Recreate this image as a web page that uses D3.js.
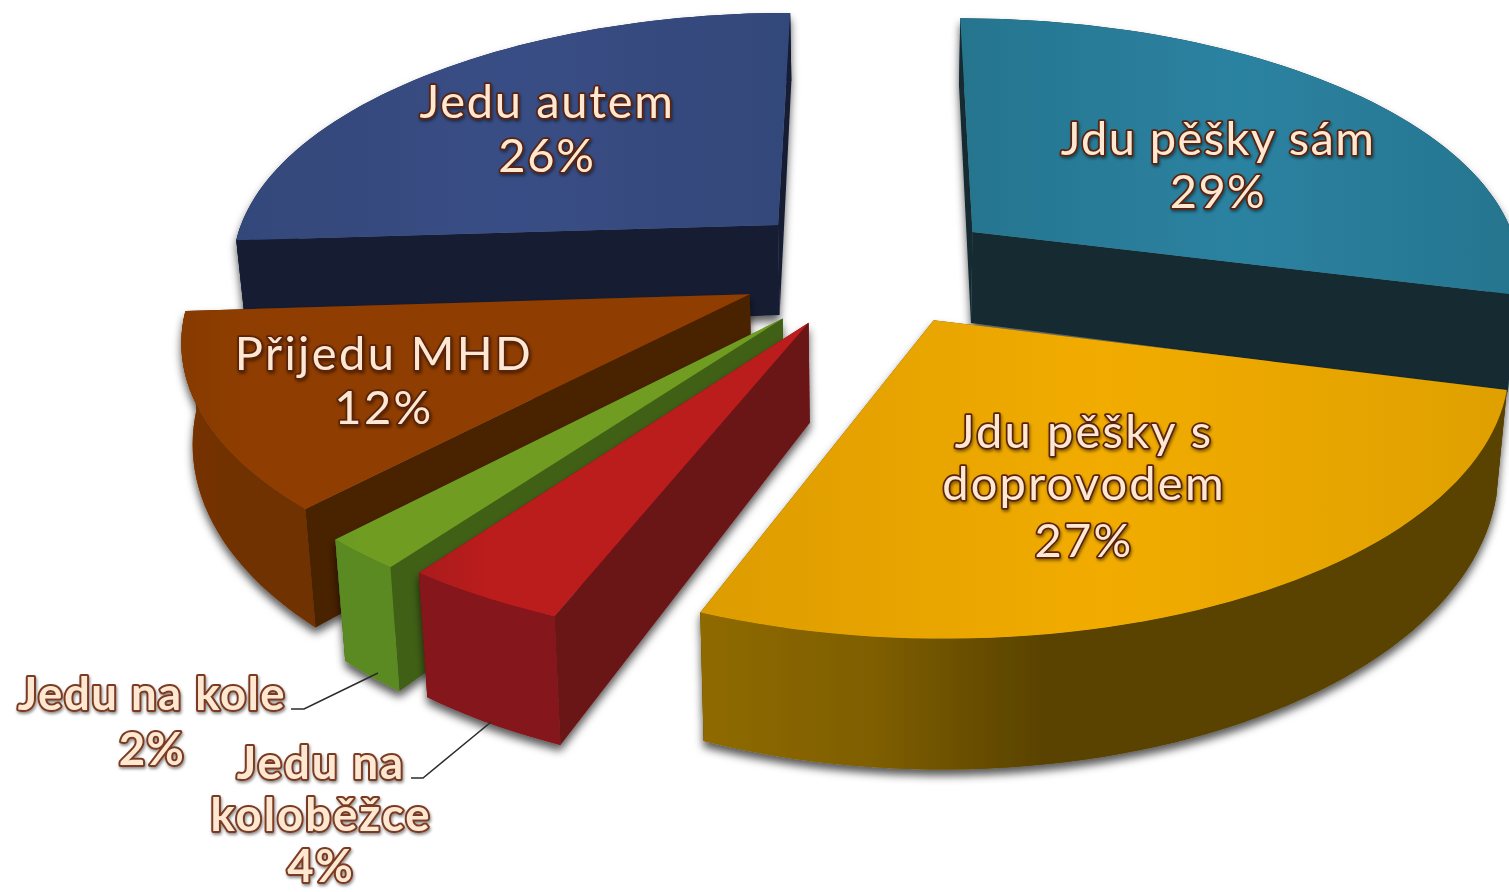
<!DOCTYPE html>
<html lang="cs">
<head>
    <meta charset="UTF-8">
    <title>Doprava do školy</title>
    <script src="https://cdn.jsdelivr.net/npm/d3@7"></script>
    <style>
        body { margin: 0; background: #fff; }
        svg { display: block; }
        text { font-family: Lato, "Open Sans", sans-serif; text-anchor: middle; paint-order: stroke; stroke-linejoin: round; }
    </style>
</head>
<body>
<script>
    // data
    var categories = ["Jdu pěšky sám", "Jdu pěšky s doprovodem", "Jedu na koloběžce", "Jedu na kole", "Přijedu MHD", "Jedu autem"];
    var values = [29, 27, 4, 2, 12, 26];
    var explosions = [0.231, 0.23, 0.245, 0.258, 0.25, 0.25];

    // barvy: vrch, radiální stěna, obvodová stěna
    var topStops = [["#27758f", "#2a82a1", "#27758f"], ["#dd9c00", "#f2ac00", "#dfa000"], ["#a91a1e", "#bb1a1e", "#bb1a1e"], ["#6a9a22", "#6f9c20", "#6f9c20"], ["#873a00", "#8f3d00", "#8f3d00"], ["#33477a", "#394e85", "#33477a"]];
    var sideColors = ["#122a33", "#5a4300", "#6a1418", "#3f6018", "#4a2000", "#121a33"];
    var rimStops = [["#122a33", "#122a33", "#122a33"], ["#8f6a00", "#7f5f00", "#5a4300"], ["#84141a", "#84141a", "#84141a"], ["#5c8a22", "#5c8a22", "#5c8a22"], ["#763300", "#703000", "#703000"], ["#121a33", "#121a33", "#121a33"]];

    // popisky: text po řádcích, střed a účaří (rozložení, ne data)
    var labelLayout = [
        { lines: ["Jdu pěšky sám", "29%"], x: 1218, y: [155, 208], ls: 1.4, outline: 0 },
        { lines: ["Jdu pěšky s", "doprovodem", "27%"], x: 1084, y: [448, 500, 557], ls: 2.2, outline: 0 },
        { lines: ["Jedu na", "koloběžce", "4%"], x: 321, y: [779, 831, 882], ls: 2, outline: 1 },
        { lines: ["Jedu na kole", "2%"], x: 152, y: [710, 765], ls: 1.5, outline: 1 },
        { lines: ["Přijedu MHD", "12%"], x: 384, y: [370, 424], ls: 2.4, outline: 0 },
        { lines: ["Jedu autem", "26%"], x: 547, y: [118, 172], ls: 1.7, outline: 0 }
    ];

    var width = 1509, height = 892;
    var radius = 1.01;
    var cx = 875, cy = 267;
    var persp = 0.145, perspZ = 0.016, wallGrow = 0.17; // perspektiva dozadu a dolů

    var sx = d3.scaleLinear().domain([0, 1]).range([0, 545]);
    var sy = d3.scaleLinear().domain([0, 1]).range([0, -252]);
    var sz = d3.scaleLinear().domain([0, 1]).range([0, 96]);

    // (X, Y) v rovině koláče, z 0 = vrch, 1 = spodek
    function project(p, z) {
        var w = 1 + persp * p[1] + perspZ * z;
        return [cx + sx(p[0]) / w, cy + (sy(p[1]) + sz(z) * (1 - wallGrow * p[1])) / w];
    }
    function polar(a, r) { return [Math.sin(a) * r, Math.cos(a) * r]; }

    var svg = d3.select("body").append("svg").attr("width", width).attr("height", height);
    var defs = svg.append("defs");

    var shadow = defs.append("filter").attr("id", "shadow")
        .attr("x", "-10%").attr("y", "-10%").attr("width", "120%").attr("height", "125%");
    shadow.append("feDropShadow").attr("dx", 0).attr("dy", 6).attr("stdDeviation", 4)
        .attr("flood-color", "#000").attr("flood-opacity", 0.65);

    var textShadow = defs.append("filter").attr("id", "textShadow")
        .attr("x", "-10%").attr("y", "-20%").attr("width", "120%").attr("height", "140%");
    textShadow.append("feDropShadow").attr("dx", 1).attr("dy", 2).attr("stdDeviation", 1.5)
        .attr("flood-color", "#000").attr("flood-opacity", 0.45);

    function gradient(id, stops, x1, x2) {
        var g = defs.append("linearGradient").attr("id", id)
            .attr("gradientUnits", "userSpaceOnUse")
            .attr("x1", x1).attr("x2", x2).attr("y1", 0).attr("y2", 0);
        stops.forEach(function (c, i) {
            g.append("stop").attr("offset", i / (stops.length - 1)).attr("stop-color", c);
        });
        return "url(#" + id + ")";
    }

    var pie = d3.pie().sort(null).value(function (d) { return d; });
    var line = d3.line();

    var slices = pie(values).map(function (d) {
        var mid = (d.startAngle + d.endAngle) / 2;
        var apex = polar(mid, explosions[d.index]);
        var steps = Math.max(4, Math.ceil((d.endAngle - d.startAngle) / 0.03));
        var arc = d3.range(steps + 1).map(function (i) {
            var off = polar(d.startAngle + (d.endAngle - d.startAngle) * i / steps, radius);
            return [apex[0] + off[0], apex[1] + off[1]];
        });
        return { index: d.index, mid: mid, apex: apex, arc: arc };
    });

    // od zadních dílů k předním
    slices.sort(function (a, b) { return Math.cos(b.mid) - Math.cos(a.mid); });

    slices.forEach(function (s) {
        var g = svg.append("g").attr("filter", "url(#shadow)");
        var first = s.arc[0], last = s.arc[s.arc.length - 1];
        var top = s.arc.map(function (p) { return project(p, 0); });
        var bottom = s.arc.map(function (p) { return project(p, 1); }).reverse();
        var xs = top.map(function (p) { return p[0]; });
        var x0 = d3.min(xs), x1 = d3.max(xs);
        var apex0 = project(s.apex, 0), apex1 = project(s.apex, 1);

        var rimFill = gradient("rim" + s.index, rimStops[s.index], x0, s.index === 1 ? 1040 : x1);
        var topFill = gradient("top" + s.index, topStops[s.index], x0, x1);

        var walls = [first, last].map(function (p) {
            return {
                y: (p[1] + s.apex[1]) / 2,
                d: line([apex0, project(p, 0), project(p, 1), apex1]),
                fill: sideColors[s.index]
            };
        });
        walls.sort(function (a, b) { return b.y - a.y; });

        // obvod se kreslí před radiální stěnou, která leží vpředu
        g.append("path").attr("d", line(top.concat(bottom)) + "Z").attr("fill", rimFill);
        walls.forEach(function (w) {
            g.append("path").attr("d", w.d + "Z").attr("fill", w.fill);
        });
        // přední část obvodu znovu přes stěny
        var front = s.arc.filter(function (p) { return p[1] < s.apex[1]; });
        if (front.length > 1) {
            var ft = front.map(function (p) { return project(p, 0); });
            var fb = front.map(function (p) { return project(p, 1); }).reverse();
            g.append("path").attr("d", line(ft.concat(fb)) + "Z").attr("fill", rimFill);
        }
        g.append("path").attr("d", line([apex0].concat(top)) + "Z").attr("fill", topFill);
    });

    // vodicí čáry
    svg.append("path").attr("d", line([[291, 709], [304, 709], [378, 673]]))
        .attr("fill", "none").attr("stroke", "#2b2b2b").attr("stroke-width", 1.5);
    svg.append("path").attr("d", line([[411, 778], [423, 778], [491, 722]]))
        .attr("fill", "none").attr("stroke", "#2b2b2b").attr("stroke-width", 1.5);

    // popisky
    labelLayout.forEach(function (l) {
        l.lines.forEach(function (t, i) {
            svg.append("text")
                .attr("x", l.x).attr("y", l.y[i])
                .attr("font-size", l.outline ? 45.5 : 47)
                .attr("font-weight", l.outline ? 700 : 400)
                .attr("letter-spacing", l.ls)
                .attr("fill", "#ffe8d2")
                .attr("stroke", l.outline ? "#7a3a20" : "#5a2410")
                .attr("stroke-width", l.outline ? 4 : 3.5)
                .attr("filter", "url(#textShadow)")
                .text(t);
        });
    });
</script>
</body>
</html>
